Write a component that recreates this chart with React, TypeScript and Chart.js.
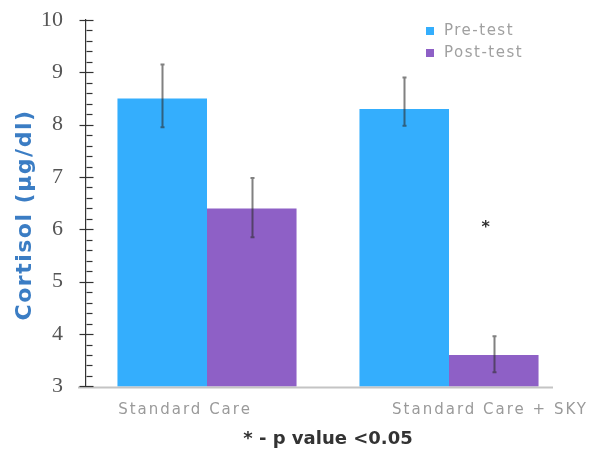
import { useEffect, useRef } from "react";
import { Chart, registerables } from "chart.js";

Chart.register(...registerables);

// ---- data ----
const categories = ["Standard Care", "Standard Care + SKY"];
const seriesNames = ["Pre-test", "Post-test"];
const preTest = [8.5, 8.3];
const postTest = [6.4, 3.6];
const preErrLow = [7.95, 7.98];
const preErrHigh = [9.15, 8.9];
const postErrLow = [5.85, 3.27];
const postErrHigh = [6.98, 3.96];
const yTicks = [3, 4, 5, 6, 7, 8, 9, 10];
const yMin = 3;
const yMax = 10;
const minorStep = 0.2;
const sigCategory = 1;
const sigSeries = 1;
const sigValue = 6.1;
const sigMark = "*";
const yTitle = "Cortisol (µg/dl)";
const footnote = "* - p value <0.05";

// ---- styles ----
const colors = ["#34aefd", "#8e60c6"];
const labelOffsets = [-22, 41];
const lightFont = "15px 'DejaVu Sans'";

const errLows = [preErrLow, postErrLow];
const errHighs = [preErrHigh, postErrHigh];

const customPlugin = {
  id: "custom",
  afterDatasetsDraw(chart: any) {
    const ctx = chart.ctx;
    const ys = chart.scales.y;
    const area = chart.chartArea;
    ctx.save();
    // error bars
    ctx.strokeStyle = "rgba(45,45,45,0.6)";
    ctx.lineWidth = 2;
    for (let d = 0; d < 2; d++) {
      const meta = chart.getDatasetMeta(d);
      meta.data.forEach((el: any, j: number) => {
        const x = Math.round(el.x) + 0.5;
        const yl = ys.getPixelForValue(errLows[d][j]);
        const yh = ys.getPixelForValue(errHighs[d][j]);
        ctx.beginPath();
        ctx.moveTo(x, yl);
        ctx.lineTo(x, yh);
        ctx.moveTo(x - 2, yh);
        ctx.lineTo(x + 2, yh);
        ctx.moveTo(x - 2, yl);
        ctx.lineTo(x + 2, yl);
        ctx.stroke();
      });
    }
    // x axis line
    ctx.strokeStyle = "#c4c4c4";
    ctx.lineWidth = 2;
    ctx.beginPath();
    ctx.moveTo(area.left - 8, area.bottom + 1);
    ctx.lineTo(area.right - 17, area.bottom + 1);
    ctx.stroke();
    // y axis ticks
    ctx.strokeStyle = "#333";
    ctx.lineWidth = 1.2;
    const ax = area.left + 0.5;
    const n = Math.round((yMax - yMin) / minorStep);
    for (let k = 0; k <= n; k++) {
      const v = yMin + k * minorStep;
      const py = Math.round(ys.getPixelForValue(v)) + 0.5;
      const major = Math.abs(v - Math.round(v)) < 1e-6;
      ctx.beginPath();
      if (major) {
        ctx.moveTo(ax - 7, py);
        ctx.lineTo(ax + 7, py);
      } else {
        ctx.moveTo(ax, py);
        ctx.lineTo(ax + 6, py);
      }
      ctx.stroke();
    }
    // x labels
    const xs = chart.scales.x;
    ctx.font = lightFont;
    (ctx as any).letterSpacing = "2px";
    ctx.fillStyle = "#9a9a9a";
    ctx.textAlign = "center";
    ctx.textBaseline = "middle";
    categories.forEach((c, i) => {
      ctx.fillText(c, xs.getPixelForValue(i) + labelOffsets[i], area.bottom + 24);
    });
    // legend
    ctx.textAlign = "left";
    (ctx as any).letterSpacing = "1.5px";
    seriesNames.forEach((s, i) => {
      const ly = 31 + i * 22;
      ctx.fillStyle = colors[i];
      ctx.fillRect(426, ly - 4, 8, 8);
      ctx.fillStyle = "#a0a0a0";
      ctx.fillText(s, 444, ly);
    });
    // y title
    ctx.save();
    (ctx as any).letterSpacing = "1.5px";
    ctx.translate(25, 215);
    ctx.rotate(-Math.PI / 2);
    ctx.font = "bold 22px 'DejaVu Sans'";
    ctx.fillStyle = "#3b7dc4";
    ctx.textAlign = "center";
    ctx.fillText(yTitle, 0, 0);
    ctx.restore();
    (ctx as any).letterSpacing = "0px";
    // significance mark
    const sm = chart.getDatasetMeta(sigSeries).data[sigCategory] as any;
    ctx.fillStyle = "#333";
    ctx.font = "bold 16px 'DejaVu Sans'";
    ctx.textAlign = "center";
    ctx.fillText(sigMark, sm.x - 8, ys.getPixelForValue(sigValue) + 4);
    ctx.restore();
  },
};

export default function App() {
  const ref = useRef<HTMLCanvasElement>(null);
  useEffect(() => {
    document.body.style.margin = "0";
    const chart = new Chart(ref.current!, {
      type: "bar",
      data: {
        labels: categories,
        datasets: [
          { label: seriesNames[0], data: preTest, backgroundColor: colors[0] },
          { label: seriesNames[1], data: postTest, backgroundColor: colors[1] },
        ],
      },
      options: {
        animation: false,
        responsive: false,
        layout: { padding: { top: 20, right: 28, bottom: 0, left: 0 } },
        datasets: { bar: { categoryPercentage: 0.74, barPercentage: 1.0 } },
        plugins: {
          legend: { display: false },
          tooltip: { enabled: false },
          title: {
            display: true,
            text: footnote,
            position: "bottom",
            fullSize: false,
            color: "#333",
            font: { family: "'DejaVu Sans'", size: 18, weight: "bold", lineHeight: 1.2 },
            padding: { top: 1, bottom: 2 },
          },
        },
        scales: {
          x: {
            ticks: { display: false },
            grid: { display: false, drawTicks: false },
            border: { display: false },
            afterFit: (s: any) => {
              s.height = 41;
            },
          },
          y: {
            min: yMin,
            max: yMax,
            afterBuildTicks: (s: any) => {
              s.ticks = yTicks.map((v) => ({ value: v }));
            },
            ticks: {
              padding: 0,
              color: "#555",
              font: { family: "'Liberation Serif'", size: 22 },
            },
            grid: {
              display: true,
              drawOnChartArea: false,
              drawTicks: true,
              tickLength: 23,
              color: "rgba(0,0,0,0)",
            },
            border: { display: true, color: "#333", width: 1.2 },
            title: { display: false },
            afterFit: (s: any) => {
              s.width = 86;
            },
          },
        },
      },
      plugins: [customPlugin],
    });
    return () => chart.destroy();
  }, []);
  return <canvas ref={ref} width={598} height={452} />;
}
